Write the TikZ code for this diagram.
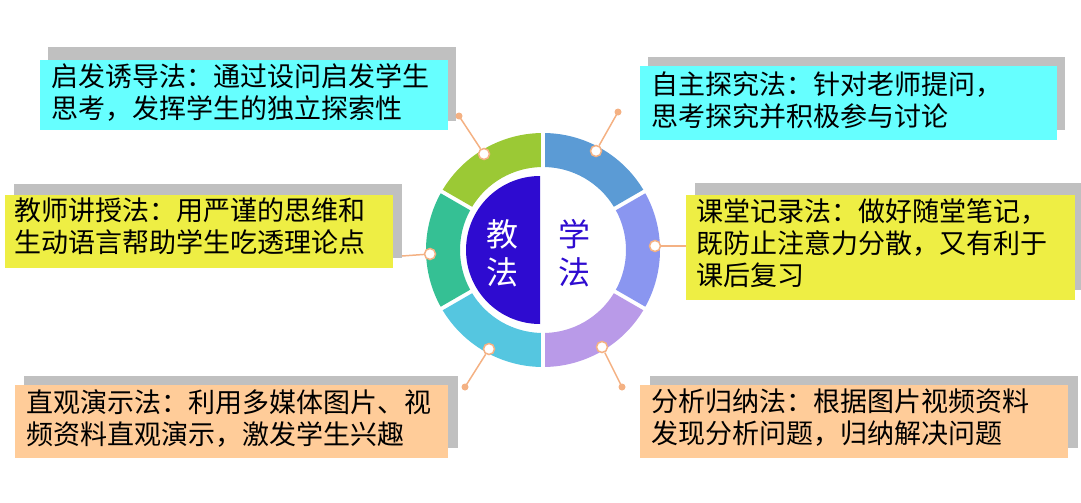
\documentclass[tikz,border=0pt]{standalone}
\usepackage{fontspec}
\setmainfont{Noto Sans CJK SC}
\begin{document}
\begin{tikzpicture}[x=1pt,y=-1pt]
\definecolor{cy}{HTML}{66FFFF}
\definecolor{ye}{HTML}{EEEE44}
\definecolor{pe}{HTML}{FFCC99}
\definecolor{sh}{HTML}{C0C0C0}
\definecolor{org}{HTML}{F4B183}
\definecolor{ink}{HTML}{2E0BD0}
\tikzset{
 txt/.style={anchor=north west,align=left,font=\fontsize{27}{32}\selectfont,inner sep=0pt},
 pin/.style={circle,draw=org,line width=1.5pt,fill=white,minimum size=11pt,inner sep=0pt},
 dot/.style={circle,fill=org,minimum size=7pt,inner sep=0pt},
 lnk/.style={draw=org,line width=1.5pt}
}
\useasboundingbox (0,0) rectangle (1081,503);
% boxes with shadows
\fill[sh] (48,47) rectangle (456,121);
\fill[cy] (40,60) rectangle (448,130);
\node[txt] (t1) at (51,63) {启发诱导法：通过设问启发学生\\思考，发挥学生的独立探索性};
\fill[sh] (648,57) rectangle (1065,130);
\fill[cy] (640,66) rectangle (1057,140);
\node[txt] (t2) at (651,71) {自主探究法：针对老师提问，\\思考探究并积极参与讨论};
\fill[sh] (14,184) rectangle (402,258);
\fill[ye] (5,195) rectangle (393,268);
\node[txt] (t3) at (14,198) {教师讲授法：用严谨的思维和\\生动语言帮助学生吃透理论点};
\fill[sh] (695,183) rectangle (1081,290);
\fill[ye] (686,195) rectangle (1075,300);
\node[txt] (t4) at (696,198) {课堂记录法：做好随堂笔记，\\既防止注意力分散，又有利于\\课后复习};
\fill[sh] (24,376) rectangle (458,448);
\fill[pe] (15,385) rectangle (448,458);
\node[txt] (t5) at (26,389) {直观演示法：利用多媒体图片、视\\频资料直观演示，激发学生兴趣};
\fill[sh] (650,376) rectangle (1078,448);
\fill[pe] (640,385) rectangle (1068,458);
\node[txt] (t6) at (651,389) {分析归纳法：根据图片视频资料\\发现分析问题，归纳解决问题};
% ring
\begin{scope}[shift={(543,250)},yscale=-1]
\foreach \a/\b/\c in {90/150/9BC935,30/90/5B9BD5,-30/30/8A96F0,-90/-30/B99AE8,-150/-90/55C6E0,150/210/35C094}{
 \definecolor{seg}{HTML}{\c}
 \fill[seg] (\a+1:117) arc (\a+1:\b-1:117) -- (\b-1.4:83) arc (\b-1.4:\a+1.4:83) -- cycle;
}
\fill[ink] (-3,74) arc (90:270:74) -- cycle;
\end{scope}
\node[text=white,align=center,font=\fontsize{32}{38}\selectfont] (jf) at (502,253) {教\\法};
\node[text=ink,align=center,font=\fontsize{32}{38}\selectfont] (xf) at (574,253) {学\\法};
% connectors
\coordinate (e1) at (459,116); \coordinate (e2) at (618,112);
\coordinate (e5) at (465,387); \coordinate (e6) at (622,387);
\coordinate (e3) at (402,256); \coordinate (e4) at (686,246);
\node[pin] (p1) at (484,154) {}; \node[pin] (p2) at (596,151) {};
\node[pin] (p3) at (430,254) {}; \node[pin] (p4) at (655,246) {};
\node[pin] (p5) at (489,349) {}; \node[pin] (p6) at (602,347) {};
\draw[lnk] (p1) -- (e1); \draw[lnk] (p2) -- (e2);
\draw[lnk] (p3) -- (e3); \draw[lnk] (p4) -- (e4);
\draw[lnk] (p5) -- (e5); \draw[lnk] (p6) -- (e6);
\node[dot] at (e1) {}; \node[dot] at (e2) {};
\node[dot] at (e5) {}; \node[dot] at (e6) {};
\end{tikzpicture}
\end{document}
